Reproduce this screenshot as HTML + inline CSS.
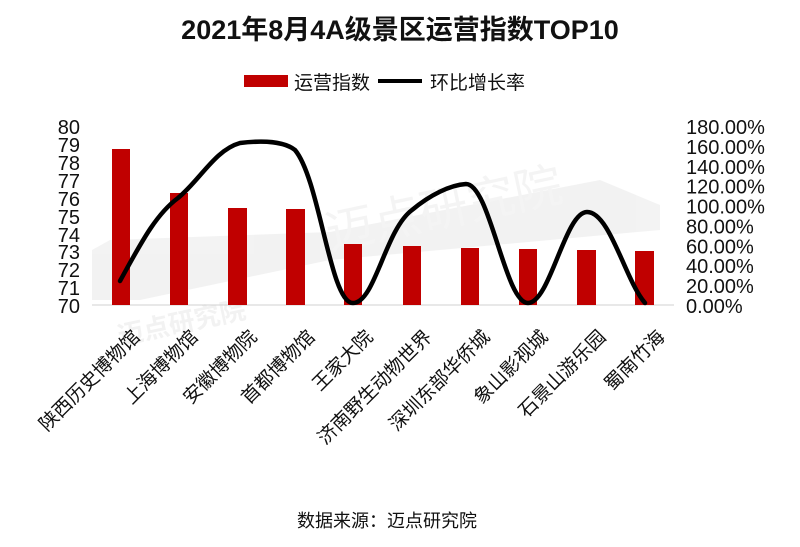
<!DOCTYPE html>
<html><head><meta charset="utf-8"><style>
html,body{margin:0;padding:0;background:#fff;}
svg{display:block;font-family:"Liberation Sans","Noto Sans CJK SC",sans-serif;}
</style></head><body>
<svg width="800" height="547" viewBox="0 0 800 547" xmlns="http://www.w3.org/2000/svg">
<rect width="800" height="547" fill="#fff"/>
<!-- watermark -->
<g opacity="0.07" fill="#555">
<polygon points="92,300 92,250 110,240 330,232 600,180 660,205 660,230 330,260 140,300"/>
<text x="330" y="250" font-size="48" fill="#777" transform="rotate(-12 330 250)">迈点研究院</text>
<text x="120" y="345" font-size="26" transform="rotate(-12 120 345)" font-weight="bold">迈点研究院</text>
</g>
<text x="400" y="39" text-anchor="middle" font-size="27" font-weight="bold" fill="#111">2021年8月4A级景区运营指数TOP10</text>
<!-- legend -->
<rect x="244" y="75" width="44" height="12" fill="#c00000"/>
<text x="294" y="89" font-size="19" fill="#111">运营指数</text>
<line x1="378" y1="81" x2="422" y2="81" stroke="#000" stroke-width="4"/>
<text x="430" y="89" font-size="19" fill="#111">环比增长率</text>
<!-- left axis -->
<g font-size="20" fill="#111" text-anchor="end">
<text x="80" y="313">70</text><text x="80" y="295">71</text><text x="80" y="277">72</text><text x="80" y="259">73</text><text x="80" y="242">74</text><text x="80" y="224">75</text><text x="80" y="206">76</text><text x="80" y="188">77</text><text x="80" y="170">78</text><text x="80" y="152">79</text><text x="80" y="134">80</text>
</g>
<g font-size="20" fill="#111">
<text x="686" y="313">0.00%</text><text x="686" y="293">20.00%</text><text x="686" y="273">40.00%</text><text x="686" y="253.5">60.00%</text><text x="686" y="233.5">80.00%</text><text x="686" y="213.5">100.00%</text><text x="686" y="193.5">120.00%</text><text x="686" y="174">140.00%</text><text x="686" y="154">160.00%</text><text x="686" y="134">180.00%</text>
</g>
<line x1="92" y1="305" x2="674" y2="305" stroke="#d0d0d0" stroke-width="1"/>
<!-- bars -->
<g fill="#c00000">
<rect x="112" y="149" width="18" height="156"/>
<rect x="170" y="193" width="18" height="112"/>
<rect x="228" y="208" width="19" height="97"/>
<rect x="286" y="209" width="19" height="96"/>
<rect x="344" y="244" width="18" height="61"/>
<rect x="403" y="246" width="18" height="59"/>
<rect x="461" y="248" width="18" height="57"/>
<rect x="519" y="249" width="18" height="56"/>
<rect x="577" y="250" width="19" height="55"/>
<rect x="635" y="251" width="19" height="54"/>
</g>
<!-- line -->
<path d="M120,281 C140,245 155,215 178,198 C200,180 215,150 240,143 C265,140 285,142 295,150 C320,180 330,303 353,303 C375,303 385,230 412,210 C430,195 450,185 466,184 C490,184 505,303 528,303 C550,303 565,212 587,212 C610,212 625,280 645,303" fill="none" stroke="#000" stroke-width="4.5" stroke-linecap="round" stroke-linejoin="round"/>
<!-- x labels -->
<g font-size="19" fill="#111" text-anchor="end">
<text transform="translate(141,338) rotate(-45)">陕西历史博物馆</text>
<text transform="translate(199,338) rotate(-45)">上海博物馆</text>
<text transform="translate(258,338) rotate(-45)">安徽博物院</text>
<text transform="translate(316,338) rotate(-45)">首都博物馆</text>
<text transform="translate(374,338) rotate(-45)">王家大院</text>
<text transform="translate(433,338) rotate(-45)">济南野生动物世界</text>
<text transform="translate(491,338) rotate(-45)">深圳东部华侨城</text>
<text transform="translate(549,338) rotate(-45)">象山影视城</text>
<text transform="translate(607,338) rotate(-45)">石景山游乐园</text>
<text transform="translate(666,338) rotate(-45)">蜀南竹海</text>
</g>
<text x="387" y="527" text-anchor="middle" font-size="18" fill="#111">数据来源：迈点研究院</text>
</svg>
</body></html>
